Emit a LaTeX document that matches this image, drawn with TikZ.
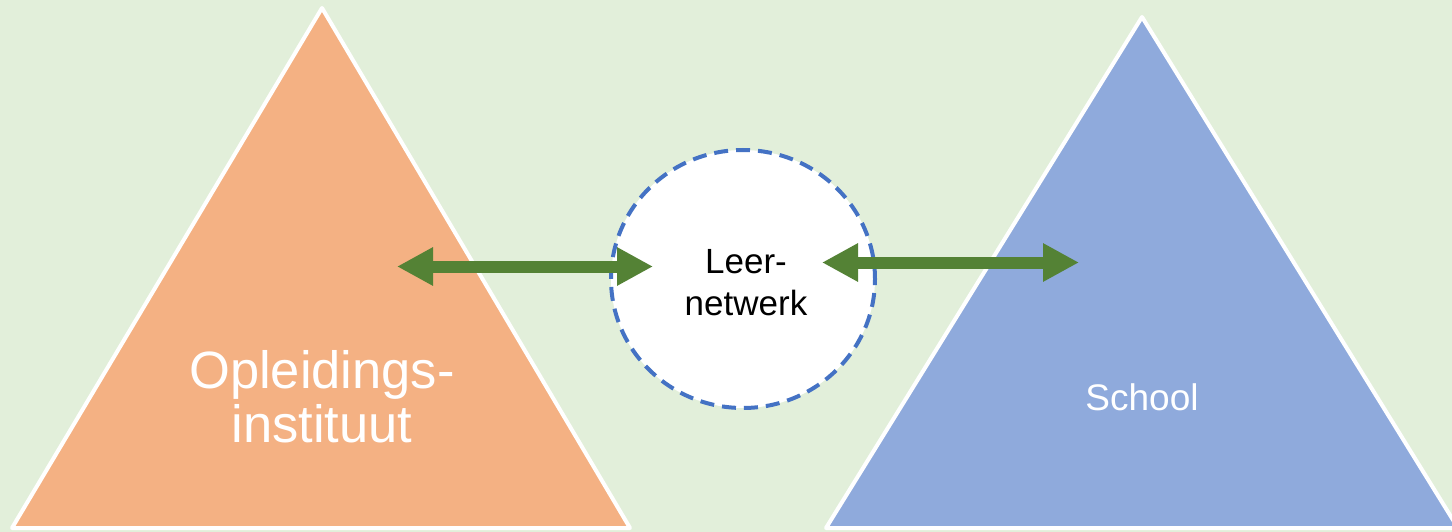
\documentclass[tikz,border=0pt]{standalone}
\usepackage{fontspec}
\setmainfont{Liberation Sans}
\usetikzlibrary{arrows.meta,shapes.geometric}
\definecolor{bg}{HTML}{E2EFDA}
\definecolor{orng}{HTML}{F4B183}
\definecolor{blu}{HTML}{8FAADC}
\definecolor{grn}{HTML}{548235}
\definecolor{dblu}{HTML}{4472C4}
\tikzset{
  tri/.style={draw=white, line width=4pt, line join=round},
  biarrow/.style={draw=grn, line width=12pt, {Triangle[length=36pt,width=36pt]}-{Triangle[length=36pt,width=36pt]}, shorten <=0pt, shorten >=0pt},
  wlabel/.style={text=white, align=center, inner sep=0pt},
}
\begin{document}
\begin{tikzpicture}[x=1pt,y=-1pt]
\useasboundingbox (0,0) rectangle (1452,532);
\fill[bg] (0,0) rectangle (1452,532);
% triangles
\filldraw[tri, fill=orng] (322,8) -- (630,528) -- (12,528) -- cycle;
\filldraw[tri, fill=blu] (1142,17) -- (1458,528) -- (826,528) -- cycle;
% circle
\node[draw=dblu, fill=white, line width=4pt, dash pattern=on 14pt off 8pt, ellipse, minimum width=264pt, minimum height=258pt, inner sep=0pt] (net) at (743,279) {};
% labels
\node[wlabel, font=\fontsize{52.5}{54}\selectfont] (opl) at (322,397) {Opleidings-\\instituut};
\node[inner sep=0pt, align=center, font=\fontsize{35}{42}\selectfont] (leer) at (746,283) {Leer-\\netwerk};
\node[wlabel, font=\fontsize{37}{40}\selectfont] (school) at (1142,397) {School};
% arrows
\coordinate (a1) at (397,266.5);
\coordinate (a2) at (653,266.5);
\coordinate (b1) at (822,262.5);
\coordinate (b2) at (1079,262.5);
\draw[biarrow] (a1) -- (a2);
\draw[biarrow] (b1) -- (b2);
\end{tikzpicture}
\end{document}
